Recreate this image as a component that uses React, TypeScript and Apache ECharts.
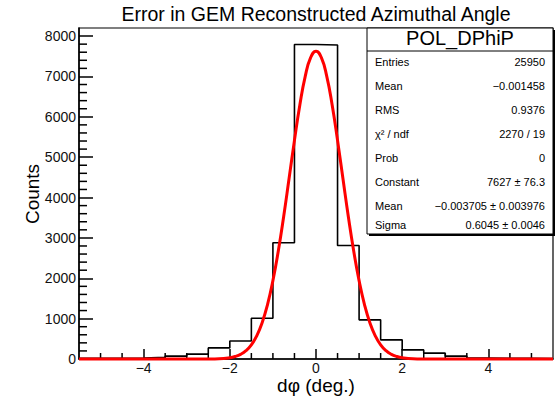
import React, { useEffect, useRef } from "react";
import * as echarts from "echarts";

// ---- data ----
const binEdges = [
  -5.5, -5, -4.5, -4, -3.5, -3, -2.5, -2, -1.5, -1, -0.5, 0, 0.5, 1, 1.5, 2, 2.5, 3, 3.5, 4, 4.5, 5, 5.5,
];
const binCounts = [
  15, 20, 25, 40, 70, 120, 275, 445, 1010, 2880, 7790, 7780, 2810, 970, 475, 225, 145, 70, 25, 18, 15, 12,
];

const fitX = [
  -5.5, -3, -2.5, -2.25, -2, -1.875, -1.75, -1.625, -1.5, -1.375, -1.25, -1.125, -1, -0.875, -0.75, -0.625,
  -0.5, -0.375, -0.25, -0.125, 0, 0.125, 0.25, 0.375, 0.5, 0.625, 0.75, 0.875, 1, 1.125, 1.25, 1.375, 1.5,
  1.625, 1.75, 1.875, 2, 2.25, 2.5, 3, 5.5,
];
const fitY = [
  0, 0, 2, 7, 32, 62, 115, 206, 351, 574, 899, 1349, 1942, 2676, 3532, 4470, 5417, 6293, 7002, 7465, 7627,
  7465, 7002, 6293, 5417, 4470, 3532, 2676, 1942, 1349, 899, 574, 351, 206, 115, 62, 32, 7, 2, 0, 0,
];

const xMin = -5.5;
const xMax = 5.5;
const xMajorTicks = [-4, -2, 0, 2, 4];
const xTickLabels = ["\u22124", "\u22122", "0", "2", "4"];
const xMinorTicks = [-5, -4.5, -3.5, -3, -2.5, -1.5, -1, -0.5, 0.5, 1, 1.5, 2.5, 3, 3.5, 4.5, 5];
const yMax = 8200;
const yMajorTicks = [0, 1000, 2000, 3000, 4000, 5000, 6000, 7000, 8000];
const yTickLabels = ["0", "1000", "2000", "3000", "4000", "5000", "6000", "7000", "8000"];
const yMinorTicks = [
  200, 400, 600, 800, 1200, 1400, 1600, 1800, 2200, 2400, 2600, 2800, 3200, 3400, 3600, 3800, 4200, 4400,
  4600, 4800, 5200, 5400, 5600, 5800, 6200, 6400, 6600, 6800, 7200, 7400, 7600, 7800,
];

const chartTitle = "Error in GEM Reconstructed Azimuthal Angle";
const xTitle = "d\u03c6 (deg.)";
const yTitle = "Counts";
const statsName = "POL_DPhiP";
const statLabels = ["Entries", "Mean", "RMS", "\u03c7\u00b2 / ndf", "Prob", "Constant", "Mean", "Sigma"];
const statValues = [
  "25950",
  "\u22120.001458",
  "0.9376",
  "2270 / 19",
  "0",
  "7627 \u00b1 76.3",
  "\u22120.003705 \u00b1 0.003976",
  "0.6045 \u00b1 0.0046",
];

const FONT = "'Liberation Sans', Arial, Helvetica, sans-serif";

export default function App() {
  const ref = useRef<HTMLDivElement>(null);

  useEffect(() => {
    if (!ref.current) return;
    const chart = echarts.init(ref.current, null, { renderer: "svg" });

    const histData: number[][] = [];
    for (let i = 0; i < binCounts.length; i++) histData.push([binEdges[i], binCounts[i]]);
    histData.push([binEdges[binEdges.length - 1], binCounts[binCounts.length - 1]]);
    const fitData = fitX.map((x, i) => [x, fitY[i]]);

    const rowY = [61.5, 85.5, 109.5, 133.5, 157.5, 181.5, 205.5, 225];
    const statTexts: any[] = [];
    statLabels.forEach((l, i) => {
      statTexts.push({
        type: "text",
        x: 375,
        y: rowY[i],
        style: { text: l, fontSize: 11, fontFamily: FONT, fill: "#000", align: "left", verticalAlign: "middle" },
        z: 102,
      });
      statTexts.push({
        type: "text",
        x: 545,
        y: rowY[i],
        style: {
          text: statValues[i],
          fontSize: 11,
          fontFamily: FONT,
          fill: "#000",
          align: "right",
          verticalAlign: "middle",
        },
        z: 102,
      });
    });

    const option: any = {
      animation: false,
      grid: {
        left: 79,
        right: 5,
        top: 28,
        bottom: 39,
      },
      xAxis: {
        type: "value",
        min: xMin,
        max: xMax,
        position: "bottom",
        splitLine: { show: false },
        axisLine: { show: true, onZero: false, lineStyle: { color: "#000", width: 1.5 } },
        axisTick: {
          show: true,
          inside: true,
          length: 10,
          customValues: xMajorTicks,
          lineStyle: { color: "#000", width: 1.5 },
        },
        axisLabel: {
          show: true,
          customValues: xMajorTicks,
          formatter: (v: number) => xTickLabels[xMajorTicks.indexOf(v)] ?? "",
          fontSize: 14,
          fontFamily: FONT,
          color: "#111",
          margin: 2,
        },
      },
      yAxis: {
        type: "value",
        min: 0,
        max: yMax,
        position: "left",
        splitLine: { show: false },
        axisLine: { show: true, onZero: false, lineStyle: { color: "#000", width: 1.5 } },
        axisTick: {
          show: true,
          inside: true,
          length: 14,
          customValues: yMajorTicks,
          lineStyle: { color: "#000", width: 1.5 },
        },
        axisLabel: {
          show: true,
          customValues: yMajorTicks,
          formatter: (v: number) => yTickLabels[yMajorTicks.indexOf(v)] ?? "",
          fontSize: 14,
          fontFamily: FONT,
          color: "#111",
          margin: 3,
        },
      },
      series: [
        // plot frame
        {
          type: "custom",
          data: [[0, 0]],
          encode: { x: 0, y: 1 },
          renderItem: (params: any) => {
            const cs = params.coordSys;
            return {
              type: "rect",
              shape: { x: cs.x, y: cs.y, width: cs.width, height: cs.height },
              style: { fill: "none", stroke: "#000", lineWidth: 1.2 },
            };
          },
        },
        // minor ticks on the x axis
        {
          type: "custom",
          data: xMinorTicks.map((v) => [v, 0]),
          encode: { x: 0, y: 1 },
          renderItem: (params: any, api: any) => {
            const p = api.coord([api.value(0), api.value(1)]);
            return {
              type: "line",
              shape: { x1: p[0], y1: p[1], x2: p[0], y2: p[1] - 6 },
              style: { stroke: "#000", lineWidth: 1.5 },
            };
          },
        },
        // minor ticks on the y axis
        {
          type: "custom",
          data: yMinorTicks.map((v) => [xMin, v]),
          encode: { x: 0, y: 1 },
          renderItem: (params: any, api: any) => {
            const p = api.coord([api.value(0), api.value(1)]);
            return {
              type: "line",
              shape: { x1: p[0], y1: p[1], x2: p[0] + 8, y2: p[1] },
              style: { stroke: "#000", lineWidth: 1.5 },
            };
          },
        },
        {
          type: "line",
          data: histData,
          step: "end",
          symbol: "none",
          lineStyle: { color: "#000", width: 1.6 },
        },
        {
          type: "line",
          data: fitData,
          smooth: true,
          symbol: "none",
          clip: false,
          lineStyle: { color: "#ff0000", width: 3 },
        },
      ],
      graphic: [
        {
          type: "text",
          x: 316,
          y: 14,
          style: { text: chartTitle, fontSize: 19.5, fontFamily: FONT, fill: "#000", align: "center", verticalAlign: "middle" },
        },
        {
          type: "text",
          x: 32,
          y: 194,
          rotation: Math.PI / 2,
          style: { text: yTitle, fontSize: 19, fontFamily: FONT, fill: "#000", align: "center", verticalAlign: "middle" },
        },
        {
          type: "text",
          x: 316,
          y: 385,
          style: { text: xTitle, fontSize: 19, fontFamily: FONT, fill: "#000", align: "center", verticalAlign: "middle" },
        },
        // stats box shadow
        {
          type: "rect",
          shape: { x: 369, y: 30, width: 186, height: 206 },
          style: { fill: "#000" },
          z: 99,
        },
        {
          type: "rect",
          shape: { x: 367, y: 28, width: 186, height: 206 },
          style: { fill: "#fff", stroke: "#000", lineWidth: 1 },
          z: 100,
        },
        {
          type: "line",
          shape: { x1: 367, y1: 51, x2: 553, y2: 51 },
          style: { stroke: "#000", lineWidth: 1 },
          z: 101,
        },
        {
          type: "text",
          x: 460,
          y: 38,
          style: { text: statsName, fontSize: 20, fontFamily: FONT, fill: "#000", align: "center", verticalAlign: "middle" },
          z: 102,
        },
        ...statTexts,
      ],
    };

    chart.setOption(option);
    return () => chart.dispose();
  }, []);

  return (
    <div
      ref={ref}
      style={{ position: "fixed", left: 0, top: 0, width: 558, height: 398, background: "#fff" }}
    />
  );
}
